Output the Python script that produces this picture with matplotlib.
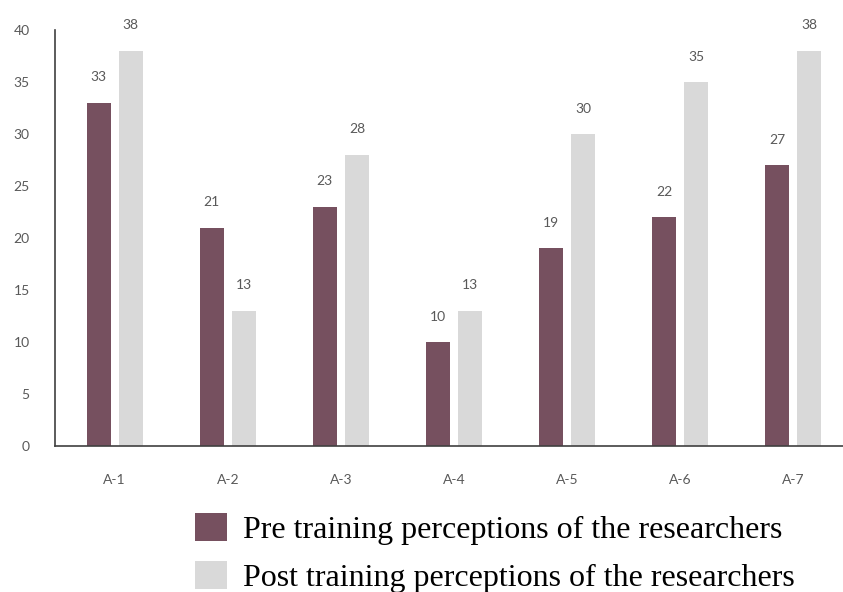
import numpy as np
import matplotlib.pyplot as plt

categories = ['A-1', 'A-2', 'A-3', 'A-4', 'A-5', 'A-6', 'A-7']
pre_training = [33, 21, 23, 10, 19, 22, 27]
post_training = [38, 13, 28, 13, 30, 35, 38]

pre_color = '#76505f'
post_color = '#d9d9d9'
text_gray = '#595959'

fig = plt.figure(figsize=(8.43, 5.92), dpi=100)
ax = fig.add_axes([0.065, 0.2466, 0.935, 0.7027])

x = np.arange(len(categories))
w = 0.21
off = 0.142
b1 = ax.bar(x - off, pre_training, w, color=pre_color,
            label='Pre training perceptions of the researchers')
b2 = ax.bar(x + off, post_training, w, color=post_color,
            label='Post training perceptions of the researchers')

for bars in (b1, b2):
    for r in bars:
        h = r.get_height()
        ax.annotate(f'{h:g}', (r.get_x() + r.get_width() / 2, h),
                    xytext=(0, 14), textcoords='offset points',
                    ha='center', va='bottom', fontsize=10,
                    color=text_gray, family='Lato')

ax.set_xlim(-0.53, 6.44)
ax.set_ylim(0, 40)
ax.set_yticks(range(0, 41, 5))
ax.set_xticks(x)
ax.set_xticklabels(categories)
ax.tick_params(length=0, colors=text_gray, labelsize=10)
ax.tick_params(axis='x', pad=20)
ax.tick_params(axis='y', pad=18)
for lbl in ax.get_xticklabels() + ax.get_yticklabels():
    lbl.set_family('Lato')

for s in ('top', 'right'):
    ax.spines[s].set_visible(False)
for s in ('left', 'bottom'):
    ax.spines[s].set_color('#404040')
    ax.spines[s].set_linewidth(1.2)

fig.legend(handles=[b1, b2], loc='upper left', bbox_to_anchor=(0.231, 0.134),
           frameon=False, prop={'family': 'Liberation Serif', 'size': 23},
           handlelength=1.0, handleheight=1.0, handletextpad=0.5,
           labelspacing=0.5, borderaxespad=0, borderpad=0)

fig.savefig('out.png', dpi=100)
